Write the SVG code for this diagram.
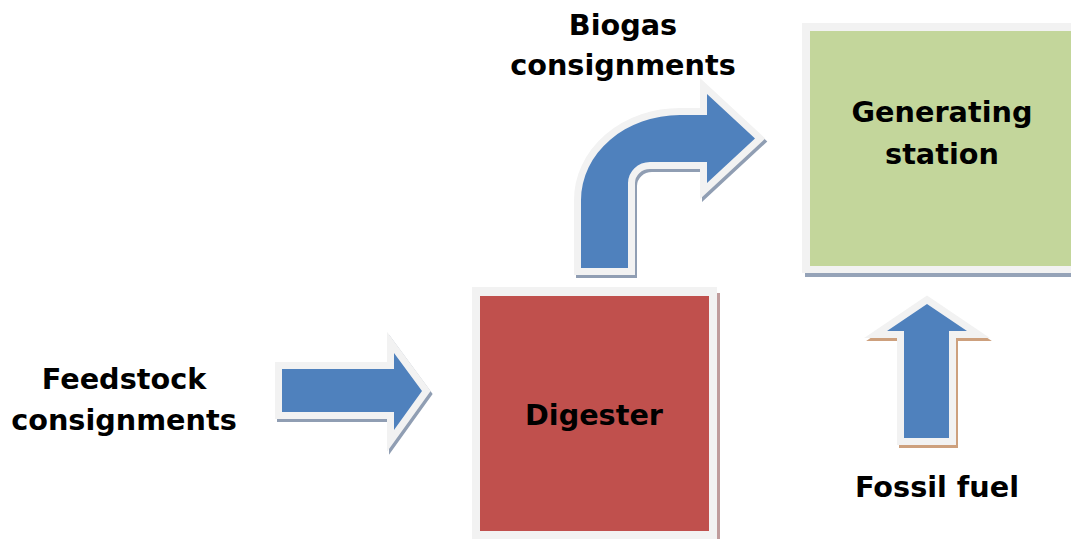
<svg xmlns="http://www.w3.org/2000/svg" xmlns:xlink="http://www.w3.org/1999/xlink" width="1071" height="539" viewBox="0 0 1071 539">
<style>
.lbl{font-family:"DejaVu Sans","Verdana",sans-serif;font-weight:bold;font-size:28.7px;fill:#000;text-anchor:middle}
.frame{fill:#f2f2f2}
.arrow{fill:#4f81bd;stroke:#f2f2f2;stroke-width:14;stroke-linejoin:miter;stroke-miterlimit:6;paint-order:stroke}
.shadowB{fill:#909eb3;stroke:#909eb3;stroke-width:14;stroke-linejoin:miter;stroke-miterlimit:6}
.shadowT{fill:#cda07d;stroke:#cda07d;stroke-width:14;stroke-linejoin:miter;stroke-miterlimit:6}
</style>
<defs>
<path id="aFeed" d="M282,369 H394 V353 L422,391 L394,430 V412 H282 Z"/>
<path id="aBio" d="M581,268 V200 A99,85 0 0 1 680,115 H707 V94 L755,138.5 L707,183 V162 H650 A22,21 0 0 0 628,183 V268 Z"/>
<path id="aFossil" d="M904,438 V331 H887 L927,304 L967,331 H949 V438 Z"/>
</defs>
<rect width="1071" height="539" fill="#ffffff"/>

<g id="generating-station">
<rect x="805" y="27" width="280" height="250" fill="#95a3b8"/>
<rect class="frame" x="802" y="23" width="280" height="250"/>
<rect x="810" y="31" width="270" height="235" fill="#c3d69b"/>
<text class="lbl" x="942" y="122">Generating</text>
<text class="lbl" x="942" y="164">station</text>
</g>

<g id="digester">
<rect x="475" y="293" width="245" height="260" fill="#bf9c9c"/>
<rect class="frame" x="472" y="287" width="245" height="260"/>
<rect x="480" y="296" width="229" height="235" fill="#c0504d"/>
<text class="lbl" x="594" y="425">Digester</text>
</g>

<g id="feedstock-label">
<text class="lbl" x="124" y="389">Feedstock</text>
<text class="lbl" x="124" y="430">consignments</text>
</g>

<g id="biogas-label">
<text class="lbl" x="623" y="35">Biogas</text>
<text class="lbl" x="623" y="75">consignments</text>
</g>

<g id="fossil-label">
<text class="lbl" x="937" y="497">Fossil fuel</text>
</g>

<g id="connectors">
<use xlink:href="#aFeed" href="#aFeed" class="shadowB" transform="translate(2,3)"/>
<use xlink:href="#aFeed" href="#aFeed" class="arrow"/>
<use xlink:href="#aBio" href="#aBio" class="shadowB" transform="translate(2,3)"/>
<use xlink:href="#aBio" href="#aBio" class="arrow"/>
<use xlink:href="#aFossil" href="#aFossil" class="shadowT" transform="translate(2,3)"/>
<use xlink:href="#aFossil" href="#aFossil" class="arrow"/>
</g>
</svg>
